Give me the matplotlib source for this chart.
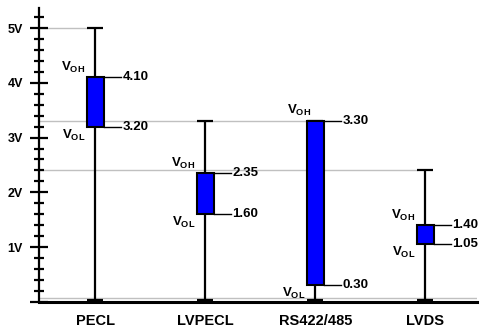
import matplotlib
matplotlib.use("Agg")
import matplotlib.pyplot as plt

plt.rcParams['font.family'] = ['Liberation Sans', 'DejaVu Sans']
plt.rcParams['font.weight'] = 'bold'
plt.rcParams['mathtext.fontset'] = 'custom'
plt.rcParams['mathtext.rm'] = 'Liberation Sans:bold'
plt.rcParams['mathtext.bf'] = 'Liberation Sans:bold'

# output swing per logic family (volts)
categories = ['PECL', 'LVPECL', 'RS422/485', 'LVDS']
supply_max = [5.0, 3.3, 3.3, 2.4]
v_oh = [4.10, 2.35, 3.30, 1.40]
v_ol = [3.20, 1.60, 0.30, 1.05]
y_ticks = [1, 2, 3, 4, 5]
y_tick_labels = ['1V', '2V', '3V', '4V', '5V']

box_w = 0.155
cap_w = 0.145
x_left, x_right = -0.51, 3.47

fig = plt.figure(figsize=(4.9, 3.34), dpi=100)
ax = fig.add_axes([39 / 490, 32.3 / 334, 438 / 490, 293.7 / 334])
ax.set_xlim(x_left, x_right)
ax.set_ylim(0, 5.37)

xs = list(range(len(categories)))

# reference lines at the supply levels
ax.hlines(0.07, x_left, x_right, color='#c0c0c0', lw=1, zorder=1)
ax.hlines(5.0, x_left, xs[0] - cap_w / 2, color='#c0c0c0', lw=1, zorder=1)
ax.hlines(3.3, x_left, xs[2] - box_w / 2, color='#c0c0c0', lw=1, zorder=1)
ax.hlines(2.4, x_left, xs[3] - cap_w / 2, color='#c0c0c0', lw=1, zorder=1)

for x, top, hi, lo in zip(xs, supply_max, v_oh, v_ol):
    ax.vlines(x, 0, top, color='black', lw=1.6, zorder=2)
    ax.hlines(top, x - cap_w / 2, x + cap_w / 2, color='black', lw=1.6, zorder=2)
    ax.hlines(0.02, x - cap_w / 2, x + cap_w / 2, color='black', lw=3, zorder=2)
    ax.bar(x, hi - lo, bottom=lo, width=box_w, color='#0000ff',
           edgecolor='black', linewidth=1.5, zorder=3)
    # value tags on the right
    ax.plot([x + box_w / 2, x + box_w / 2 + 0.16], [hi, hi], color='black', lw=1, zorder=2)
    ax.plot([x + box_w / 2, x + box_w / 2 + 0.16], [lo, lo], color='black', lw=1, zorder=2)
    ax.text(x + box_w / 2 + 0.17, hi, f'{hi:.2f}', fontsize=9.5, va='center', ha='left')
    ax.text(x + box_w / 2 + 0.17, lo, f'{lo:.2f}', fontsize=9.5, va='center', ha='left')
    # V_OH / V_OL labels
    if categories[x] == 'RS422/485':
        ax.text(x - 0.04, hi + 0.05, r'$\mathrm{V_{OH}}$', fontsize=9.5, ha='right', va='bottom')
    else:
        ax.text(x - box_w / 2 - 0.01, hi + 0.04, r'$\mathrm{V_{OH}}$', fontsize=9.5,
                ha='right', va='bottom')
    ax.text(x - box_w / 2 - 0.01, lo - 0.02, r'$\mathrm{V_{OL}}$', fontsize=9.5,
            ha='right', va='top')

for side in ['top', 'right']:
    ax.spines[side].set_visible(False)
ax.spines['left'].set_linewidth(1.6)
ax.spines['bottom'].set_linewidth(2.2)

ax.set_yticks([0] + y_ticks)
ax.set_yticklabels([''] + y_tick_labels, fontsize=9)
ax.set_yticks([i * 0.2 for i in range(27) if i % 5 != 0], minor=True)
ax.tick_params(axis='y', which='major', direction='inout', length=13, width=1.6, pad=5)
ax.tick_params(axis='y', which='minor', direction='inout', length=7.2, width=1.6)

ax.set_xticks(xs)
ax.set_xticklabels(categories, fontsize=10.5)
ax.tick_params(axis='x', length=0, pad=9)

fig.savefig('out.png', dpi=100)
